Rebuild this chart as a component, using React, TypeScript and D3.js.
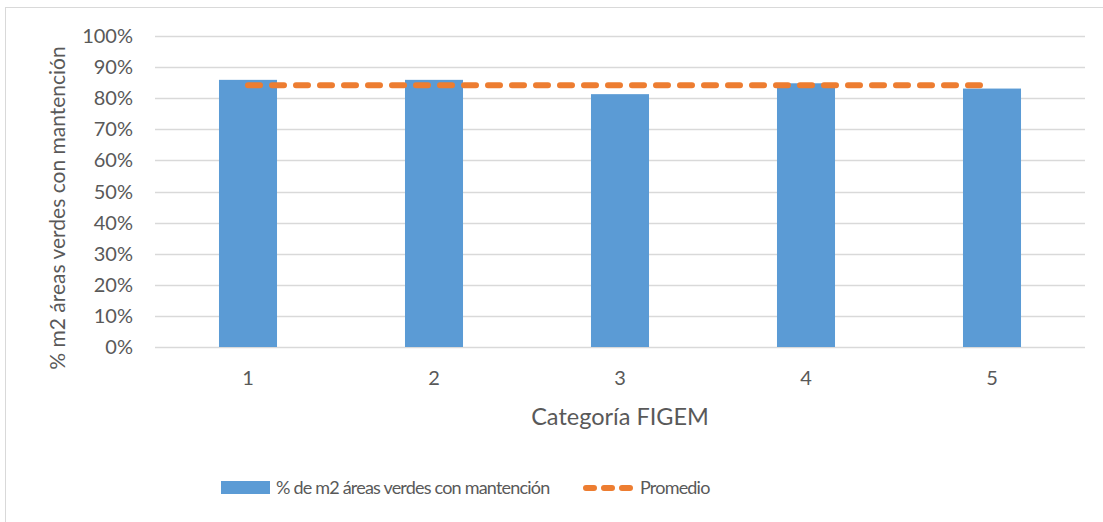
import React from 'react';
import * as d3 from 'd3';

const categories = ['1', '2', '3', '4', '5'];
const values = [0.859, 0.859, 0.813, 0.848, 0.831];
const promedio = [0.842, 0.842, 0.842, 0.842, 0.842];
const yTicks = [0, 0.1, 0.2, 0.3, 0.4, 0.5, 0.6, 0.7, 0.8, 0.9, 1];

const W = 1103;
const H = 522;
const FONT = 'Lato, sans-serif';
const TEXT = '#595959';

export default function App() {
  const ref = React.useRef<SVGSVGElement>(null);

  React.useEffect(() => {
    if (!ref.current) return;
    const svg = d3.select(ref.current);
    svg.selectAll('*').remove();

    const left = 155, right = 1085, top = 36, bottom = 347;
    const x = d3.scaleBand<string>().domain(categories).range([left, right]).paddingInner(0.688).paddingOuter(0.344);
    const y = d3.scaleLinear().domain([0, 1]).range([bottom, top]);

    svg.append('rect')
      .attr('x', 5.5).attr('y', 7.5).attr('width', 1110).attr('height', 530)
      .attr('fill', 'white').attr('stroke', '#d9d9d9').attr('stroke-width', 1);

    // gridlines
    svg.append('g')
      .selectAll('line')
      .data(yTicks)
      .join('line')
      .attr('x1', left).attr('x2', right)
      .attr('y1', d => Math.round(y(d)) + 0.5).attr('y2', d => Math.round(y(d)) + 0.5)
      .attr('stroke', '#d9d9d9').attr('stroke-width', 1.3);

    // y tick labels
    svg.append('g')
      .selectAll('text')
      .data(yTicks)
      .join('text')
      .attr('x', 133).attr('y', d => y(d))
      .attr('dy', '0.35em')
      .attr('text-anchor', 'end')
      .attr('font-family', FONT).attr('font-size', 20).attr('fill', TEXT)
      .text(d => d3.format('.0%')(d));

    // bars
    svg.append('g')
      .selectAll('rect')
      .data(values)
      .join('rect')
      .attr('x', (d, i) => x(categories[i])!)
      .attr('width', x.bandwidth())
      .attr('y', d => y(d))
      .attr('height', d => y(0) - y(d))
      .attr('fill', '#5b9bd5');

    // average line
    const line = d3.line<number>()
      .x((d, i) => x(categories[i])! + x.bandwidth() / 2)
      .y(d => y(d));
    svg.append('path')
      .datum(promedio)
      .attr('d', line)
      .attr('fill', 'none')
      .attr('stroke', '#ed7d31')
      .attr('stroke-width', 6)
      .attr('stroke-linecap', 'round')
      .attr('stroke-dasharray', '12,12');

    // x tick labels
    svg.append('g')
      .selectAll('text')
      .data(categories)
      .join('text')
      .attr('x', d => x(d)! + x.bandwidth() / 2)
      .attr('y', 378)
      .attr('dy', '0.35em')
      .attr('text-anchor', 'middle')
      .attr('font-family', FONT).attr('font-size', 20).attr('fill', TEXT)
      .text(d => d);

    svg.append('text')
      .attr('x', (left + right) / 2).attr('y', 417)
      .attr('dy', '0.35em')
      .attr('text-anchor', 'middle')
      .attr('font-family', FONT).attr('font-size', 23.5).attr('fill', TEXT)
      .text('Categoría FIGEM');

    svg.append('text')
      .attr('transform', `translate(58,${208}) rotate(-90)`)
      .attr('dy', '0.35em')
      .attr('text-anchor', 'middle')
      .attr('font-family', FONT).attr('font-size', 21).attr('fill', TEXT)
      .text('% m2 áreas verdes con mantención');

    // legend
    const lg = svg.append('g');
    lg.append('rect').attr('x', 221).attr('y', 481).attr('width', 49).attr('height', 13).attr('fill', '#5b9bd5');
    lg.append('text')
      .attr('x', 276).attr('y', 488).attr('dy', '0.35em')
      .attr('font-family', FONT).attr('font-size', 18).attr('letter-spacing', -0.8).attr('fill', TEXT)
      .text('% de m2 áreas verdes con mantención');
    lg.append('line')
      .attr('x1', 586).attr('x2', 630).attr('y1', 488).attr('y2', 488)
      .attr('stroke', '#ed7d31').attr('stroke-width', 6)
      .attr('stroke-linecap', 'round').attr('stroke-dasharray', '8,10');
    lg.append('text')
      .attr('x', 640).attr('y', 488).attr('dy', '0.35em')
      .attr('font-family', FONT).attr('font-size', 18).attr('letter-spacing', -0.8).attr('fill', TEXT)
      .text('Promedio');
  }, []);

  return (
    <svg ref={ref} width={W} height={H} style={{ position: 'absolute', left: 0, top: 0, background: 'white' }} />
  );
}
